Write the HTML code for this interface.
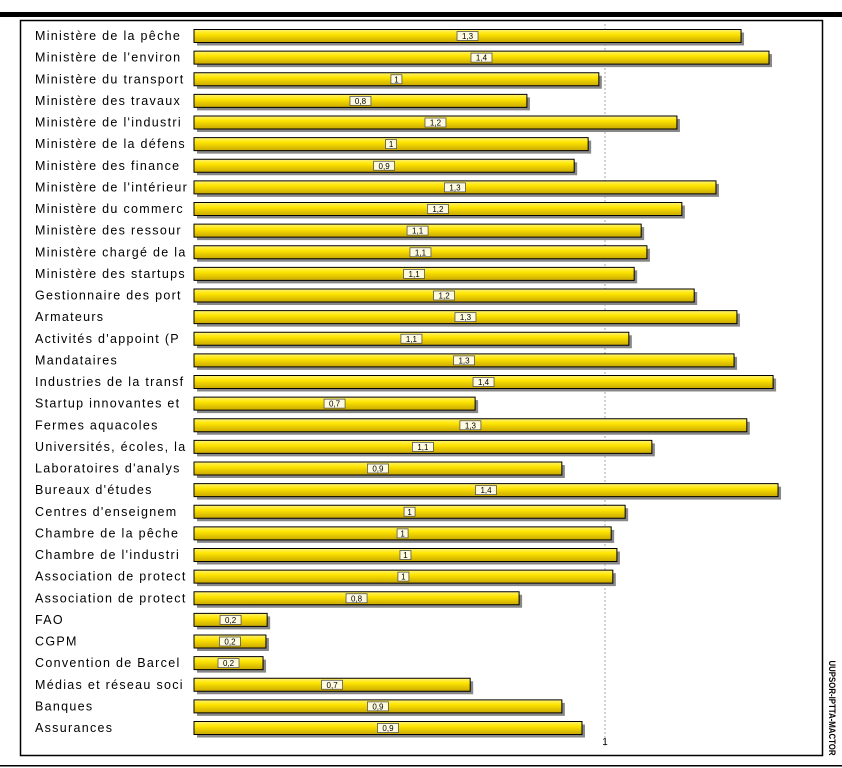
<!DOCTYPE html>
<html><head><meta charset="utf-8"><style>
body{margin:0;background:#fff;}
svg{display:block;font-family:"Liberation Sans",sans-serif;}
</style></head><body>
<svg id="chart" width="842" height="768">
<defs>
<linearGradient id="yg" x1="0" y1="0" x2="0" y2="1">
<stop offset="0" stop-color="#fff27a"/><stop offset="0.35" stop-color="#ffe600"/><stop offset="1" stop-color="#c9a800"/>
</linearGradient>
</defs>
<rect x="0" y="12" width="842" height="5" fill="#000"/>
<rect x="20.5" y="20.5" width="802" height="735" fill="none" stroke="#000" stroke-width="1.5"/>
<rect x="0" y="765" width="842" height="1.5" fill="#000"/>
<text x="829" y="708" font-size="9" font-weight="bold" textLength="95" lengthAdjust="spacingAndGlyphs" transform="rotate(90 829 708)" text-anchor="middle">UUPSOR-IPTTA-MACTOR</text>
<g id="bars"></g>
</svg>
<script>
const categories=["Ministère de la pêche","Ministère de l'environ","Ministère du transport","Ministère des travaux","Ministère de l'industri","Ministère de la défens","Ministère des finance","Ministère de l'intérieur","Ministère du commerc","Ministère des ressour","Ministère chargé de la","Ministère des startups","Gestionnaire des port","Armateurs","Activités d'appoint (P","Mandataires","Industries de la transf","Startup innovantes et","Fermes aquacoles","Universités, écoles, la","Laboratoires d'analys","Bureaux d'études","Centres d'enseignem","Chambre de la pêche","Chambre de l'industri","Association de protect","Association de protect","FAO","CGPM","Convention de Barcel","Médias et réseau soci","Banques","Assurances"];
const values=[1.331,1.399,0.985,0.810,1.175,0.959,0.925,1.270,1.187,1.088,1.102,1.071,1.217,1.321,1.058,1.314,1.409,0.684,1.345,1.114,0.895,1.421,1.049,1.015,1.029,1.019,0.791,0.178,0.175,0.168,0.672,0.895,0.944];
const ticks=[1];
const ns="http://www.w3.org/2000/svg";
const g=document.getElementById('bars');
const x0=194,pxPerUnit=411,y0=36,step=21.625,bh=13;
const xs=v=>x0+v*pxPerUnit, ys=i=>y0+i*step;
function mk(t,a){const e=document.createElementNS(ns,t);for(const k in a)e.setAttribute(k,a[k]);g.appendChild(e);return e;}
ticks.forEach(t=>{
 const l=mk('line',{x1:xs(t),x2:xs(t),y1:24,y2:748,stroke:'#aaa','stroke-dasharray':'2,2','stroke-width':1});
 
 
 const tx=mk('text',{x:xs(t),y:745,'font-size':10,'text-anchor':'middle'});tx.textContent=t;
 
 
});
categories.forEach((c,i)=>{
 const y=ys(i),v=values[i],w=v*pxPerUnit;
 const lb=mk('text',{x:35,y:y+4,'font-size':12.5,'letter-spacing':1.3,fill:'#000'});lb.textContent=c;
 
 
 const sh=mk('rect',{x:x0+3,y:y-bh/2+3,width:w,height:bh,fill:'#888'});
 
 
 const b=mk('rect',{x:x0,y:y-bh/2,width:w,height:bh,fill:'url(#yg)',stroke:'#000','stroke-width':1});
 
 
 const s=(Math.round(v*10)/10).toString().replace('.',',');
 const bw=s.length*5+6,cx=x0+w/2;
 const bx=mk('rect',{x:cx-bw/2,y:y-4.5,width:bw,height:9,fill:'#fffbe0',stroke:'#555','stroke-width':0.8});
 
 
 const vt=mk('text',{x:cx,y:y+3,'font-size':8,'text-anchor':'middle'});vt.textContent=s;
 
 
});
</script>
</body></html>
